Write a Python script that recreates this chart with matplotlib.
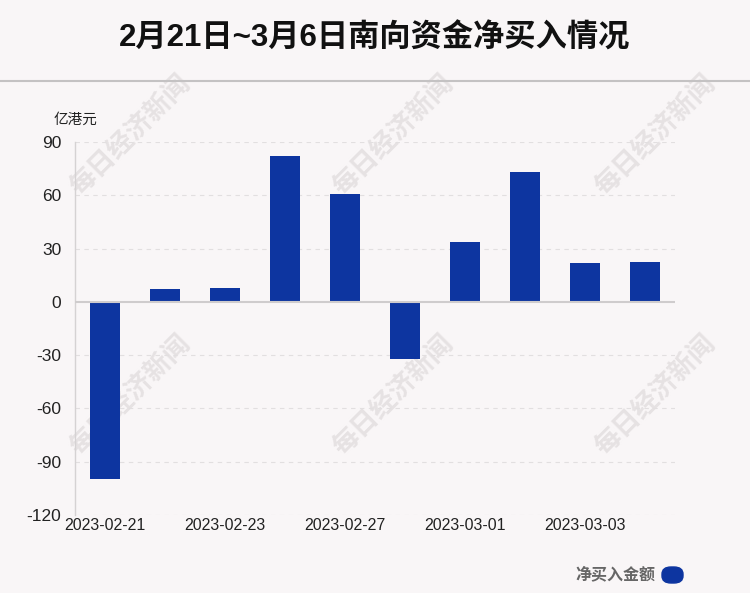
import numpy as np
import matplotlib.pyplot as plt
from matplotlib.patches import FancyBboxPatch

plt.rcParams['font.family'] = ['Liberation Sans', 'Noto Sans CJK SC', 'DejaVu Sans']

# datos
fechas = ['2023-02-21', '2023-02-22', '2023-02-23', '2023-02-24', '2023-02-27',
          '2023-02-28', '2023-03-01', '2023-03-02', '2023-03-03', '2023-03-06']
compra_neta = [-100.0, 7.0, 8.0, 82.0, 60.5, -32.0, 33.5, 73.0, 22.0, 22.5]
yticks = [90, 60, 30, 0, -30, -60, -90, -120]

fondo = '#f9f6f7'
azul = '#0d35a0'

fig = plt.figure(figsize=(7.5, 5.93), dpi=100, facecolor=fondo)
ax = fig.add_axes([0.1, 0.1315, 0.8, 0.629])
ax.patch.set_alpha(0)

# marcas de agua (detras de las barras)
for px, py in [(130, 135), (393, 135), (655, 135), (130, 395), (393, 395), (655, 395)]:
    ax.text(px / 750, 1 - py / 593, '每日经济新闻', rotation=45, ha='center', va='center',
            fontsize=19, fontweight='bold', color='#e6e2e3', zorder=0,
            transform=fig.transFigure, clip_on=False)

x = np.arange(len(fechas))
ax.bar(x, compra_neta, width=0.5, color=azul, zorder=3)

ax.set_xlim(-0.5, len(fechas) - 0.5)
ax.set_ylim(-120, 90)
ax.set_yticks(yticks)
ax.set_yticklabels([str(v) for v in yticks], fontsize=12.5, color='#222222')
ax.set_xticks(x[::2])
ax.set_xticklabels([fechas[i] for i in range(0, len(fechas), 2)], fontsize=11.5, color='#222222')
ax.tick_params(length=0)
ax.tick_params(axis='y', pad=10)
ax.tick_params(axis='x', pad=2)

for v in yticks:
    if v != 0:
        ax.axhline(v, color='#e2dfe0', lw=0.8, ls=(0, (4, 4)), zorder=1)
ax.axhline(0, color='#cfcccd', lw=1.5, zorder=4)

for s in ['top', 'right', 'bottom']:
    ax.spines[s].set_visible(False)
ax.spines['left'].set_color('#d5d2d3')
ax.spines['left'].set_linewidth(1)

fig.text(0.072, 1 - 120 / 593, '亿港元', fontsize=10.5, color='#222222', va='center')

# titulo y linea
fig.text(0.5, 1 - 38 / 593, '2月21日~3月6日南向资金净买入情况', ha='center', va='center',
         fontsize=22.5, fontweight='bold', color='#111111')
fig.add_artist(plt.Line2D([0, 1], [1 - 81 / 593, 1 - 81 / 593], color='#c4c2c3', lw=1.5))

# leyenda
fig.text(655 / 750, 1 - 574 / 593, '净买入金额', ha='right', va='center',
         fontsize=11.5, fontweight='bold', color='#666666')
fig.add_artist(FancyBboxPatch((662 / 750, 1 - 583 / 593), 21 / 750, 16 / 593,
                              boxstyle='round,pad=0,rounding_size=0.012',
                              transform=fig.transFigure, color=azul))

plt.savefig('out.png', facecolor=fondo)
